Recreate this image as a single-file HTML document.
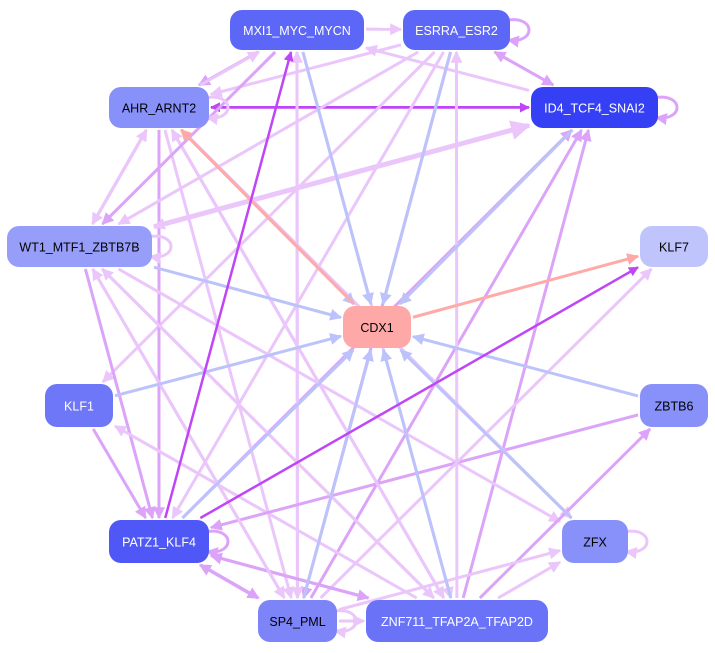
<!DOCTYPE html>
<html><head><meta charset="utf-8"><style>
html,body{margin:0;padding:0;background:#fff;width:715px;height:653px;overflow:hidden}
svg{display:block}
text{font-family:"Liberation Sans",sans-serif;font-size:12.5px}
</style></head><body>
<svg id="g" width="715" height="653" xmlns="http://www.w3.org/2000/svg">
<defs></defs>
<g id="edges"></g><g id="nodes"></g>
</svg>
<script>
var N={
MXI1:[230,10,134,40,'#5c66f7','#fff','MXI1_MYC_MYCN'],
ESRRA:[403,10,107,40,'#5c66f7','#fff','ESRRA_ESR2'],
AHR:[109,87,100,41,'#8890f9','#000','AHR_ARNT2'],
ID4:[531,87,127,41,'#3540f5','#fff','ID4_TCF4_SNAI2'],
WT1:[7,226,145,41,'#979ef9','#000','WT1_MTF1_ZBTB7B'],
KLF7:[640,226,68,41,'#c0c4fc','#000','KLF7'],
CDX1:[343,306,68,42,'#ffa8a8','#000','CDX1'],
KLF1:[45,384,68,43,'#6e77f8','#fff','KLF1'],
ZBTB6:[640,384,68,43,'#8890f9','#000','ZBTB6'],
PATZ1:[109,520,100,43,'#4f58f6','#fff','PATZ1_KLF4'],
ZFX:[562,520,66,43,'#8890f9','#000','ZFX'],
SP4:[258,600,79,42,'#7c84f8','#000','SP4_PML'],
ZNF:[366,600,182,42,'#6a73f8','#fff','ZNF711_TFAP2A_TFAP2D']};
var C={L:'#eac6fb',M:'#dca4f9',D:'#bf45f7',B:'#bcc3fb',S:'#ffaaa8'};
var E=[
['MXI1','ESRRA','L'],['MXI1','AHR','M'],['AHR','MXI1','L'],['ESRRA','AHR','L'],['ID4','MXI1','L'],
['ESRRA','ID4','M'],['ID4','ESRRA','M'],['AHR','ID4','D'],['ID4','AHR','D'],
['ESRRA','KLF1','L'],['ESRRA','SP4','M'],['ESRRA','PATZ1','L'],['PATZ1','ID4','M'],['ZNF','ID4','M'],['SP4','ID4','M'],
['ZNF','ESRRA','L'],['MXI1','SP4','L'],['MXI1','ZNF','L'],['SP4','MXI1','L'],['AHR','PATZ1','M'],['AHR','SP4','L'],
['AHR','ZNF','L'],['AHR','ZFX','L'],['WT1','PATZ1','M'],['WT1','SP4','L'],['WT1','ZNF','L'],['WT1','ZFX','L'],
['KLF1','PATZ1','M'],['ZNF','KLF1','L'],['ZBTB6','PATZ1','M'],['ZNF','ZBTB6','M'],['SP4','KLF7','L'],['ZFX','AHR','L'],
['PATZ1','SP4','M'],['SP4','PATZ1','M'],['PATZ1','ZNF','M'],['ZNF','PATZ1','M'],['SP4','ZNF','L'],['ZNF','ZFX','L'],['SP4','ZFX','L'],
['ZNF','WT1','L'],['SP4','WT1','L'],['ZNF','AHR','L'],['AHR','WT1','L'],['WT1','AHR','L'],['MXI1','WT1','M'],['ESRRA','WT1','L'],
['WT1','ID4','L',5],['ID4','WT1','L'],
['MXI1','CDX1','B'],['ESRRA','CDX1','B'],['ID4','CDX1','B'],['AHR','CDX1','B'],['WT1','CDX1','B'],['KLF1','CDX1','B'],
['ZBTB6','CDX1','B'],['ZFX','CDX1','B'],['PATZ1','CDX1','B'],['SP4','CDX1','B'],['ZNF','CDX1','B'],
['CDX1','AHR','S'],['CDX1','KLF7','S'],['PATZ1','KLF7','D'],['PATZ1','MXI1','D']];
var ns='http://www.w3.org/2000/svg',svg=document.getElementById('g'),defs=svg.querySelector('defs'),eg=document.getElementById('edges'),ng=document.getElementById('nodes');
for(var k in C){var m=document.createElementNS(ns,'marker');m.setAttribute('id','m'+k);m.setAttribute('viewBox','0 0 10 10');m.setAttribute('refX','9');m.setAttribute('refY','5');m.setAttribute('markerWidth','4');m.setAttribute('markerHeight','4');m.setAttribute('orient','auto');m.setAttribute('markerUnits','strokeWidth');var p=document.createElementNS(ns,'path');p.setAttribute('d','M0,0L10,5L0,10z');p.setAttribute('fill',C[k]);m.appendChild(p);defs.appendChild(m);}
function ctr(n){var r=N[n];return [r[0]+r[2]/2,r[1]+r[3]/2];}
function clip(n,from,to){var r=N[n],c=ctr(n),dx=from[0]-c[0],dy=from[1]-c[1];var sx=dx?(r[2]/2+2)/Math.abs(dx):1e9,sy=dy?(r[3]/2+2)/Math.abs(dy):1e9,s=Math.min(sx,sy);return [c[0]+dx*s,c[1]+dy*s];}
E.forEach(function(e,i){var a=ctr(e[0]),b=ctr(e[1]);var off=(i%3-1)*2;var ddx=b[0]-a[0],ddy=b[1]-a[1],len=Math.hypot(ddx,ddy),px=-ddy/len*off,py=ddx/len*off;a=[a[0]+px,a[1]+py];b=[b[0]+px,b[1]+py];
var s=clip(e[0],b,a),t=clip(e[1],a,b);var l=document.createElementNS(ns,'line');l.setAttribute('x1',s[0]);l.setAttribute('y1',s[1]);l.setAttribute('x2',t[0]);l.setAttribute('y2',t[1]);l.setAttribute('stroke',C[e[2]]);l.setAttribute('stroke-width',e[3]||(e[2]=='D'?2.5:3));l.setAttribute('marker-end','url(#m'+e[2]+')');eg.appendChild(l);});
[['ESRRA','M'],['ID4','M'],['AHR','L'],['WT1','L'],['PATZ1','M'],['ZFX','L'],['SP4','L']].forEach(function(s){var r=N[s[0]],x=r[0]+r[2]-2,y=r[1]+r[3]/2;var p=document.createElementNS(ns,'path');p.setAttribute('d','M'+x+','+(y-10)+' C'+(x+28)+','+(y-14)+' '+(x+28)+','+(y+14)+' '+x+','+(y+10));p.setAttribute('fill','none');p.setAttribute('stroke',C[s[1]]);p.setAttribute('stroke-width',3);p.setAttribute('marker-end','url(#m'+s[1]+')');eg.appendChild(p);});
for(var n in N){var r=N[n];var re=document.createElementNS(ns,'rect');re.setAttribute('x',r[0]);re.setAttribute('y',r[1]);re.setAttribute('width',r[2]);re.setAttribute('height',r[3]);re.setAttribute('rx',12);re.setAttribute('fill',r[4]);ng.appendChild(re);var t=document.createElementNS(ns,'text');t.setAttribute('x',r[0]+r[2]/2);t.setAttribute('y',r[1]+r[3]/2+5);t.setAttribute('text-anchor','middle');t.setAttribute('fill',r[5]);t.textContent=r[6];ng.appendChild(t);}
</script>
</body></html>
